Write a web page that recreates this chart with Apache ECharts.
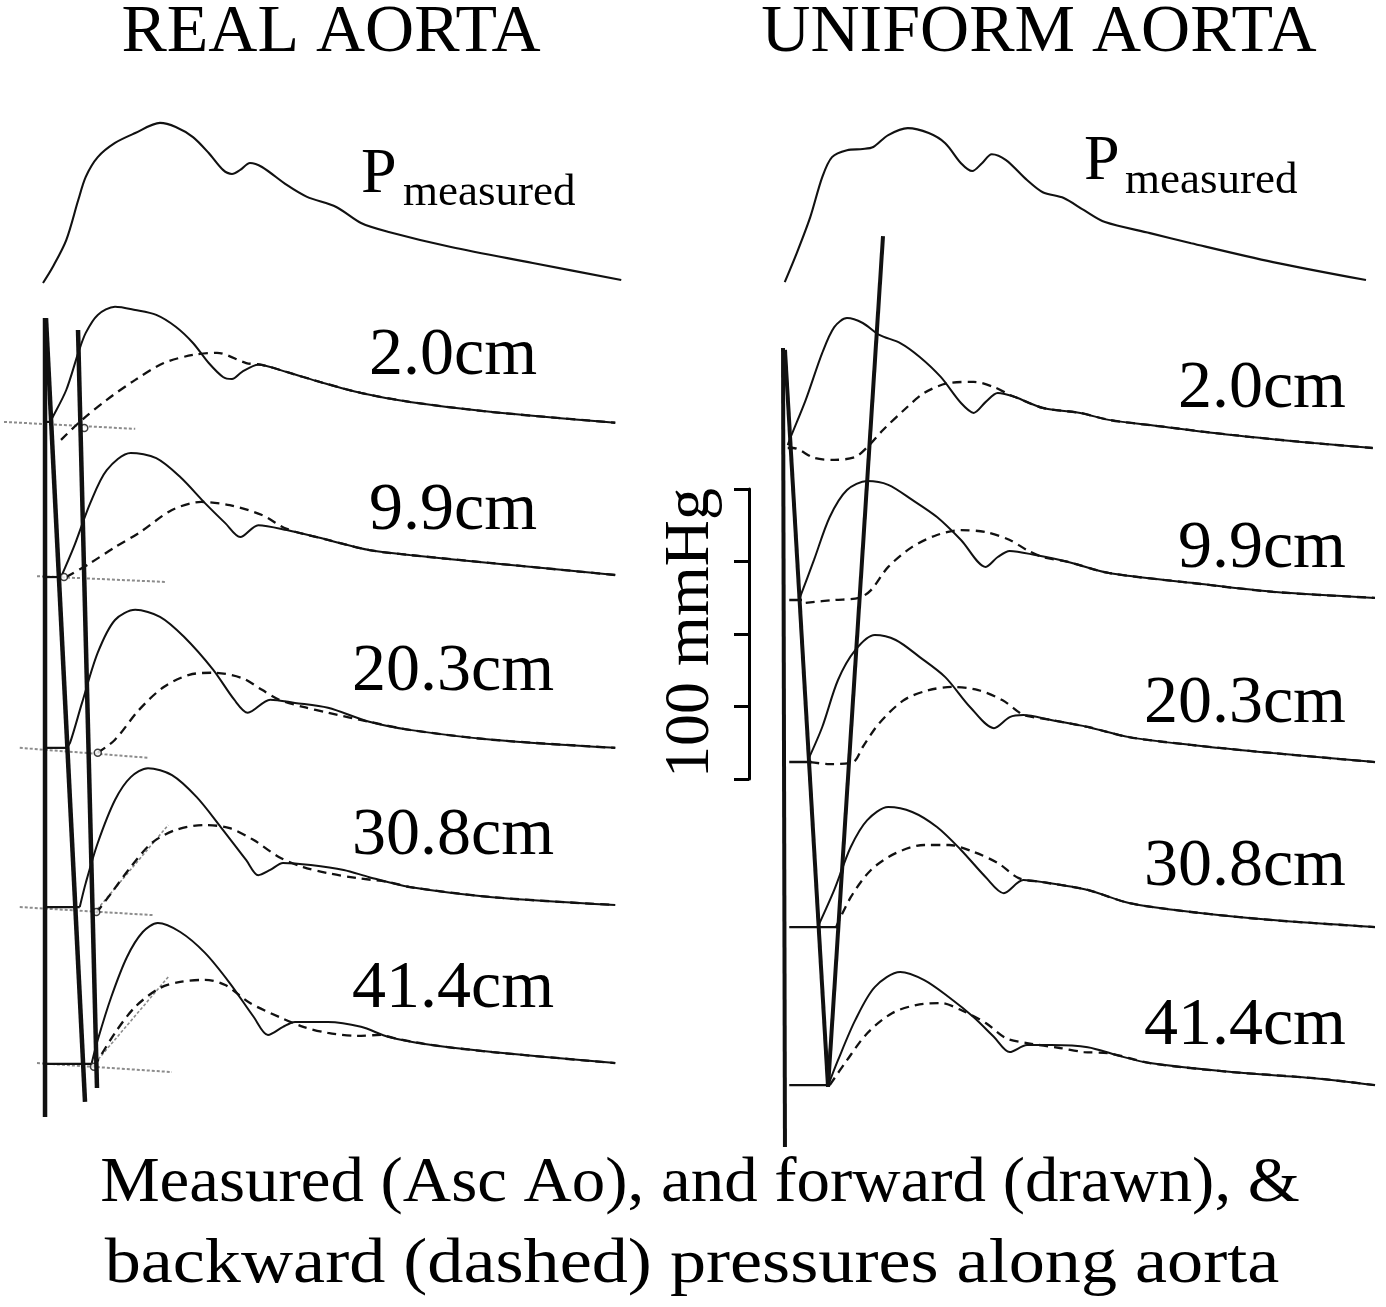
<!DOCTYPE html>
<html><head><meta charset="utf-8">
<script src="https://cdn.jsdelivr.net/npm/echarts@6/dist/echarts.min.js"></script>
<style>html,body{margin:0;padding:0;background:#fff}#c{width:1386px;height:1307px}</style>
</head><body><div id="c"></div>
<script>
// ---- DATA: time (ms) , pressure (mmHg above each trace's foot) ----
const traceLabels = ['2.0cm', '9.9cm', '20.3cm', '30.8cm', '41.4cm'];
const panelTitles = ['REAL AORTA', 'UNIFORM AORTA'];
const scaleBarTicks = [0, 25, 50, 75, 100]; // mmHg

// REAL AORTA
const realMeasured = [[4,0],[17,5.5],[35,14.8],[51,28.6],[61,36.6],[77,43.4],[100,48.3],[127,51.7],[160,55.2],[181,53.8],[204,50.3],[225,44.8],[244,39.0],[256,37.6],[267,39.0],[280,41.4],[296,40.0],[329,33.8],[356,29.7],[395,26.2],[428,20.7],[465,17.6],[548,12.4],[657,6.9],[775,1.0]];
const realFwd20  = [[13,0],[17,1.7],[35,11.0],[51,23.8],[61,30.7],[77,36.9],[100,39.7],[127,38.6],[155,36.9],[181,32.8],[204,27.2],[225,20.3],[244,15.5],[256,14.8],[269,17.2],[291,19.7],[329,17.2],[373,13.8],[428,10.0],[493,6.9],[603,3.4],[767,-0.3]];
const realBwd20  = [[28,-6.2],[56,0.7],[89,7.6],[127,14.5],[165,20.3],[204,23.1],[236,23.8],[275,20.3],[296,19.7],[329,17.2],[373,13.8],[428,10.0],[493,6.9],[603,3.4],[767,-0.3]];
const realFwd99  = [[28,0],[45,10.3],[67,25.5],[89,36.9],[121,42.8],[155,41.0],[187,34.5],[220,25.5],[247,18.6],[267,13.8],[291,17.9],[329,16.2],[384,12.8],[439,9.3],[493,7.6],[603,4.8],[767,0.7]];
const realBwd99  = [[35,0],[67,4.8],[100,10.3],[132,15.2],[176,23.1],[215,25.9],[253,24.8],[296,21.4],[329,16.6],[384,12.8],[439,9.3],[493,7.6],[603,4.8],[767,0.7]];
const realFwd203 = [[35,0],[40,1.7],[56,15.5],[77,32.8],[100,44.1],[127,47.6],[160,45.2],[192,38.3],[231,26.9],[259,16.6],[277,12.1],[307,16.6],[340,15.5],[384,13.8],[439,9.0],[493,6.2],[603,2.8],[767,0]];
const realBwd203 = [[77,-1.7],[100,2.8],[132,13.1],[165,21.0],[199,25.2],[231,25.9],[269,24.1],[296,20.0],[319,16.6],[351,14.1],[384,12.1],[439,9.0],[493,6.2],[603,2.8],[767,0]];
const realFwd308 = [[53,0],[61,8.3],[77,22.1],[100,36.9],[121,44.8],[144,47.9],[176,45.5],[209,37.9],[241,27.6],[275,16.2],[291,11.0],[307,12.8],[324,15.2],[361,14.5],[405,12.8],[439,10.3],[493,6.9],[603,3.4],[767,0.7]];
const realBwd308 = [[75,-2.1],[95,4.8],[121,13.8],[149,22.1],[181,26.6],[220,28.3],[253,27.2],[285,23.1],[319,17.2],[351,13.8],[384,11.7],[423,10.0],[465,8.6],[493,6.9],[603,3.4],[767,0.7]];
const realFwd414 = [[69,0.3],[77,8.3],[95,23.1],[116,36.9],[137,45.5],[157,48.6],[187,45.5],[220,38.3],[253,27.9],[285,16.2],[304,10.0],[324,12.8],[340,14.5],[384,14.5],[428,12.8],[465,9.3],[520,6.6],[603,4.1],[767,0.3]];
const realBwd414 = [[72,-1.0],[100,10.7],[127,19.7],[160,26.2],[187,28.3],[220,29.0],[247,27.2],[280,21.0],[319,16.2],[351,12.8],[384,10.7],[423,9.7],[455,10.0],[471,9.0],[520,6.6],[603,4.1],[767,0.3]];
// foot-finding guide lines (real aorta), relative to each trace
const realGuide20  = [[-48,0],[127,-2.4]];
const realGuide99  = [[-4,0.3],[168,-1.7]];
const realGuide203 = [[-27,0],[144,-3.4]];
const realGuide308 = [[-27,0],[152,-2.8]];
const realGuide414 = [[-4,0.3],[176,-2.8]];
const realTangent308 = [[72,-2.1],[171,28.3]];
const realTangent414 = [[69,-1.0],[171,30.0]];
const realFootMarks = [[59,-2.1],[32,0],[77,-1.7],[75,-1.7],[72,-1.0]];
// thick foot-connecting lines, in stacked panel units
const realLineA = [[6.7,274.8],[6.7,-0.7]];
const realLineB = [[8,274.8],[60,4.5]];
const realLineC = [[50.7,270.7],[76,9.3]];

// UNIFORM AORTA
const unifMeasured = [[1,0],[17,10.0],[35,22.4],[51,36.2],[64,43.1],[84,45.5],[105,45.9],[119,46.6],[139,50.7],[165,53.1],[193,51.4],[215,47.9],[236,41.0],[251,38.3],[264,41.0],[277,44.1],[296,42.1],[324,35.2],[345,31.0],[373,29.0],[400,24.8],[428,20.7],[488,16.9],[543,13.4],[652,6.9],[776,0.7]];
const unifFwd20  = [[5,1],[9,3.8],[29,16.6],[51,32.8],[67,41.7],[84,44.8],[105,43.1],[127,39.0],[155,36.2],[181,31.4],[209,24.5],[236,15.5],[253,12.1],[269,15.9],[285,19.0],[308,17.6],[345,13.8],[395,12.1],[433,9.7],[488,7.9],[597,4.5],[707,1.7],[785,0]];
const unifBwd20  = [[5,0],[12,0],[40,-3.4],[67,-4.1],[95,-3.1],[111,0.3],[132,6.2],[160,13.1],[187,19.0],[220,22.4],[253,22.8],[280,21.0],[301,18.3],[308,17.6],[345,13.8],[395,12.1],[433,9.7],[488,7.9],[597,4.5],[707,1.7],[785,0]];
const unifFwd99  = [[20,0],[40,13.8],[61,28.6],[84,37.9],[111,41.0],[139,39.7],[171,34.5],[204,28.6],[236,20.7],[269,11.4],[285,14.8],[301,16.9],[335,15.5],[379,13.1],[433,9.3],[543,5.9],[652,2.8],[788,0.7]];
const unifBwd99  = [[29,-1.0],[67,0],[100,0.7],[116,3.4],[139,11.4],[171,18.3],[204,22.4],[236,24.1],[269,23.4],[301,20.7],[324,17.2],[345,14.8],[379,13.1],[433,9.3],[543,5.9],[652,2.8],[788,0.7]];
const unifFwd203 = [[32,0.7],[51,12.1],[72,28.3],[95,38.6],[121,43.8],[149,42.1],[181,36.2],[215,29.3],[248,19.0],[280,11.7],[301,15.5],[319,16.2],[356,14.5],[405,12.1],[460,8.6],[543,5.9],[652,3.1],[788,0]];
const unifBwd203 = [[35,0],[61,-0.7],[92,0],[105,5.2],[127,13.4],[160,21.4],[193,24.8],[225,25.9],[259,24.8],[291,21.4],[313,17.2],[319,16.2],[356,14.5],[405,12.1],[460,8.6],[543,5.9],[652,3.1],[788,0]];
const unifFwd308 = [[45,0],[67,12.8],[89,27.6],[111,36.9],[139,41.4],[171,39.7],[204,34.5],[236,26.6],[269,17.2],[293,11.7],[319,16.2],[345,15.5],[405,12.8],[460,8.3],[543,5.2],[652,2.4],[788,0]];
const unifBwd308 = [[69,-0.3],[89,10.3],[116,19.7],[149,25.5],[187,28.3],[220,28.3],[253,25.9],[285,22.1],[313,16.9],[345,15.5],[405,12.8],[460,8.3],[543,5.2],[652,2.4],[788,0]];
const unifFwd414 = [[59,0],[72,8.6],[95,22.4],[121,33.8],[155,39.0],[187,36.2],[220,30.3],[253,23.4],[280,16.6],[301,11.4],[324,13.8],[356,13.8],[405,13.1],[444,10.3],[488,7.6],[597,4.5],[707,2.4],[788,0]];
const unifBwd414 = [[61,0],[84,8.6],[111,17.9],[144,24.8],[176,27.6],[209,28.3],[236,25.9],[269,21.4],[296,16.2],[324,14.5],[368,12.8],[400,11.4],[433,11.0],[488,7.6],[597,4.5],[707,2.4],[788,0]];
const unifBaseStart = 7;
const unifBaseEnds = [12, 24, 37, 72, 60];
const unifLineA = [[-1.3,264.5],[1.3,-11]];
const unifLineB = [[1.3,263.8],[58.7,9.7]];
const unifLineC = [[132,303.1],[58.7,9.7]];

// ---- LAYOUT (vertical stacking of traces, in mmHg of the panel axis) ----
const realOffsets = [286.9, 239.0, 185.5, 126.6, 71.7, 17.6];
const unifOffsets = [287.2, 230.0, 177.6, 121.7, 64.8, 10.3];

const realFwd = [realFwd20, realFwd99, realFwd203, realFwd308, realFwd414];
const realBwd = [realBwd20, realBwd99, realBwd203, realBwd308, realBwd414];
const realGuides = [realGuide20, realGuide99, realGuide203, realGuide308, realGuide414];
const unifFwd = [unifFwd20, unifFwd99, unifFwd203, unifFwd308, unifFwd414];
const unifBwd = [unifBwd20, unifBwd99, unifBwd203, unifBwd308, unifBwd414];

const shift = (arr, off) => arr.map(d => [d[0], d[1] + off]);
const INK = '#111';
const DASH = { color: INK, width: 2.3, type: [9, 6] };
const series = [];
function line(data, gi, opts) {
  series.push(Object.assign({
    type: 'line', data: data, xAxisIndex: gi, yAxisIndex: gi,
    showSymbol: false, symbol: 'none', silent: true, animation: false,
    lineStyle: { color: INK, width: 2 }, z: 3
  }, opts || {}));
}
const smooth = 0.3;
// real panel
line(shift(realMeasured, realOffsets[0]), 0, { smooth, lineStyle: { color: INK, width: 2.1 } });
realFwd.forEach((d, i) => {
  const off = realOffsets[i + 1];
  line(shift(realGuides[i], off), 0, { lineStyle: { color: '#8c8c8c', width: 2, type: [3, 2] }, z: 2 });
  line(shift([[6.7, 0], [d[0][0], 0]], off), 0, { lineStyle: { color: INK, width: 2.2 } });
  line(shift(realBwd[i], off), 0, { smooth, lineStyle: DASH });
  line(shift(d, off), 0, { smooth });
});
line(shift(realTangent308, realOffsets[4]), 0, { lineStyle: { color: '#8c8c8c', width: 1.6, type: [3, 2] }, z: 2 });
line(shift(realTangent414, realOffsets[5]), 0, { lineStyle: { color: '#8c8c8c', width: 1.6, type: [3, 2] }, z: 2 });
series.push({
  type: 'scatter', xAxisIndex: 0, yAxisIndex: 0, silent: true, animation: false,
  symbol: 'circle', symbolSize: 7, z: 4,
  itemStyle: { color: '#fff', borderColor: INK, borderWidth: 1.5 },
  data: realFootMarks.map((d, i) => [d[0], d[1] + realOffsets[i + 1]])
});
[realLineA, realLineB, realLineC].forEach(d => line(d, 0, { lineStyle: { color: INK, width: 4.5 }, z: 5 }));

// uniform panel
line(shift(unifMeasured, unifOffsets[0]), 1, { smooth, lineStyle: { color: INK, width: 2.1 } });
unifFwd.forEach((d, i) => {
  const off = unifOffsets[i + 1];
  line(shift([[unifBaseStart, 0], [unifBaseEnds[i], 0]], off), 1, { lineStyle: { color: INK, width: 2.4 } });
  line(shift(unifBwd[i], off), 1, { smooth, lineStyle: DASH });
  line(shift(d, off), 1, { smooth });
});
[unifLineA, unifLineB, unifLineC].forEach(d => line(d, 1, { lineStyle: { color: INK, width: 4 }, z: 5 }));

const SERIF = '"Liberation Serif", "Times New Roman", serif';
function txt(text, x, y, size, align, extra) {
  return Object.assign({
    type: 'text', x: x, y: y, silent: true,
    style: { text: text, fontSize: size, fontFamily: SERIF, fill: '#000',
             align: align, textAlign: align, verticalAlign: 'middle', textVerticalAlign: 'middle' }
  }, extra || {});
}
const labelMidReal = [356, 511, 672, 836, 989];
const labelMidUnif = [389, 549, 704, 867, 1026];
const graphics = [
  txt(panelTitles[0], 331, 33, 68, 'center'),
  txt(panelTitles[1], 1039, 33, 68, 'center'),
  txt('P', 361, 175, 64, 'left'),
  txt('measured', 403, 193, 45, 'left'),
  txt('P', 1084, 162, 64, 'left'),
  txt('measured', 1125, 181, 45, 'left'),
  txt('100 mmHg', 691, 633, 64, 'center', { rotation: Math.PI / 2 }),
  txt('Measured (Asc Ao), and forward (drawn), &', 700, 1184, 64, 'center', { scaleX: 1.045 }),
  txt('backward (dashed) pressures along aorta', 692, 1265, 64, 'center', { scaleX: 1.128 })
];
traceLabels.forEach((t, i) => {
  graphics.push(txt(t, 453, labelMidReal[i], 68, 'center'));
  graphics.push(txt(t, 1346, labelMidUnif[i], 68, 'right'));
});

const hiddenX = { type: 'value', min: -50, max: 800, show: false };
const hiddenY = { type: 'value', min: -20, max: 350, show: false };
const option = {
  backgroundColor: '#fff',
  animation: false,
  grid: [
    { left: 2.5, top: 100, width: 637.5, height: 1073, containLabel: false, outerBoundsMode: 'none' },
    { left: 746.5, top: 100, width: 637.5, height: 1073, containLabel: false, outerBoundsMode: 'none' },
    { left: 749, top: 489, width: 1, height: 290, containLabel: false, outerBoundsMode: 'none' }
  ],
  xAxis: [
    Object.assign({ gridIndex: 0 }, hiddenX),
    Object.assign({ gridIndex: 1 }, hiddenX),
    { gridIndex: 2, type: 'value', min: 0, max: 1, show: false }
  ],
  yAxis: [
    Object.assign({ gridIndex: 0 }, hiddenY),
    Object.assign({ gridIndex: 1 }, hiddenY),
    { gridIndex: 2, type: 'value', min: scaleBarTicks[0], max: scaleBarTicks[scaleBarTicks.length - 1], interval: 25,
      position: 'left',
      axisLine: { show: true, lineStyle: { color: '#000', width: 3 } },
      axisTick: { show: true, inside: false, length: 15, lineStyle: { color: '#000', width: 3 } },
      axisLabel: { show: false }, splitLine: { show: false } }
  ],
  series: series,
  graphic: graphics
};
const chart = echarts.init(document.getElementById('c'), null, { renderer: 'canvas' });
chart.setOption(option);
</script>
</body></html>
